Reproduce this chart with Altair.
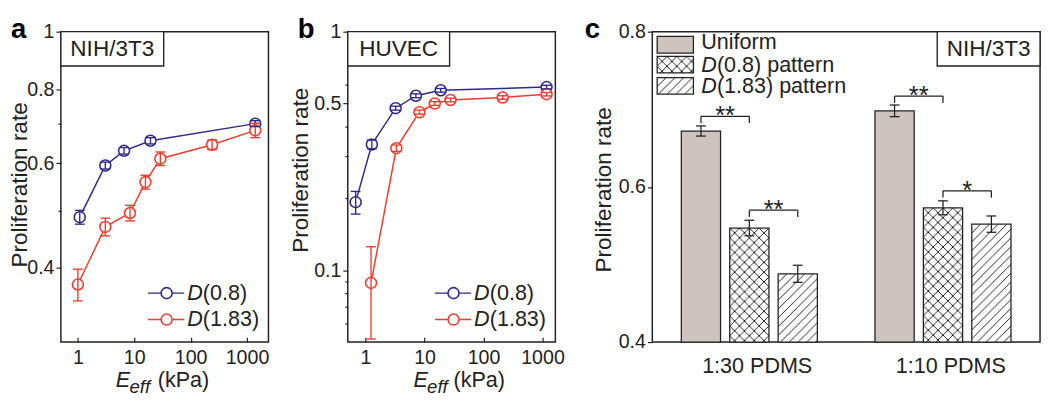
import base64
import altair as alt
import pandas as pd

# ---------------- data ----------------
# Panel a : NIH/3T3
a_E_d08 = [1.08, 3.07, 6.6, 19.4, 1400]
a_rate_d08 = [0.487, 0.595, 0.630, 0.655, 0.700]
a_err_d08 = [0.013, 0.008, 0.008, 0.008, 0.008]
a_E_d183 = [1.0, 3.07, 8.4, 15.8, 29.0, 240, 1400]
a_rate_d183 = [0.375, 0.469, 0.495, 0.558, 0.611, 0.645, 0.682]
a_err_d183 = [0.023, 0.016, 0.015, 0.015, 0.016, 0.012, 0.019]

# Panel b : HUVEC
b_E_d08 = [0.68, 1.28, 3.24, 7.14, 18.8, 1170]
b_rate_d08 = [0.193, 0.337, 0.478, 0.539, 0.568, 0.586]
b_err_d08 = [0.021, 0.014, 0.009, 0.010, 0.010, 0.010]
b_E_d183 = [1.24, 3.33, 8.2, 14.9, 27.6, 211, 1170]
b_rate_d183 = [0.0885, 0.325, 0.46, 0.50, 0.517, 0.53, 0.547]
b_err_d183 = [0.037, 0.010, 0.009, 0.009, 0.009, 0.009, 0.009]

series_names = ["D(0.8)", "D(1.83)"]

# Panel c : bars
c_groups = ["1:30 PDMS", "1:10 PDMS"]
c_types = ["Uniform", "D(0.8) pattern", "D(1.83) pattern"]
c_vals = {"1:30 PDMS": [0.672, 0.547, 0.488], "1:10 PDMS": [0.698, 0.573, 0.552]}
c_errs = {"1:30 PDMS": [0.0065, 0.010, 0.011], "1:10 PDMS": [0.0075, 0.009, 0.0105]}

sig_group = ["1:30 PDMS", "1:30 PDMS", "1:10 PDMS", "1:10 PDMS"]
sig_left = ["Uniform", "D(0.8) pattern", "Uniform", "D(0.8) pattern"]
sig_right = ["D(0.8) pattern", "D(1.83) pattern", "D(0.8) pattern", "D(1.83) pattern"]
sig_level = [0.691, 0.570, 0.717, 0.595]
sig_text = ["**", "**", "**", "*"]

# ---------------- styles ----------------
BLUE = "#2f2a88"
RED = "#f03c2e"
GRAY = "#cdc4bf"
INK = "#222222"
FONT = "Liberation Sans"
H = 317


def svg_url(kind, w, h):
    if kind == "cross":
        pat = ("<pattern id='p' width='10' height='10' patternUnits='userSpaceOnUse'>"
               "<path d='M0,0L10,10M10,0L0,10' stroke='#222' stroke-width='1'/></pattern>")
    else:
        pat = ("<pattern id='p' width='9' height='9' patternUnits='userSpaceOnUse'>"
               "<path d='M-2,2L2,-2M0,9L9,0M7,11L11,7' stroke='#222' stroke-width='1'/></pattern>")
    svg = (f"<svg xmlns='http://www.w3.org/2000/svg' width='{w}' height='{h}' viewBox='0 0 {w} {h}'>"
           f"<defs>{pat}</defs><rect width='{w}' height='{h}' fill='white'/>"
           f"<rect width='{w}' height='{h}' fill='url(#p)'/></svg>")
    return "data:image/svg+xml;base64," + base64.b64encode(svg.encode()).decode()


one = pd.DataFrame({"k": [0]})


def txt(text, x, y, size=22, style="normal", weight="normal", align="left", baseline="middle", color=INK):
    return alt.Chart(one).mark_text(
        text=text, fontSize=size, fontStyle=style, fontWeight=weight,
        align=align, baseline=baseline, color=color
    ).encode(x=alt.value(x), y=alt.value(y))


def scatter_panel(data, xdom, ydom, ymajor, yminor, label, box_w, letter,
                  title_x, title_y, ex):
    rows = []
    for s, (xs, ys, es) in zip(series_names, data):
        for xv, yv, ev in zip(xs, ys, es):
            rows.append({"series": s, "E": xv, "rate": yv, "lo": yv - ev, "hi": yv + ev})
    df = pd.DataFrame(rows)
    xsc = alt.Scale(type="log", domain=xdom)
    ysc = alt.Scale(type="log", domain=ydom)
    col = alt.Color("series:N", scale=alt.Scale(domain=series_names, range=[BLUE, RED]), legend=None)
    base = alt.Chart(df)

    line = base.mark_line(strokeWidth=1.5).encode(
        x=alt.X("E:Q", scale=xsc, axis=alt.Axis(
            orient="bottom", values=[1, 10, 100, 1000], format="d", tickSize=0,
            labelPadding=6, domain=False, grid=False, title=None, labelFontSize=20,
            labelColor=INK)),
        y=alt.Y("rate:Q", scale=ysc, axis=alt.Axis(
            orient="left", values=ymajor, format="~g", tickSize=5, tickWidth=1.2,
            tickColor=INK, labelPadding=2, labelFontSize=20, labelColor=INK,
            domain=False, grid=False, title="Proliferation rate", titleX=title_x,
            titleY=title_y, titleAngle=-90, titleAlign="center", titleBaseline="top",
            titleFontSize=23, titleFontWeight="normal", titleColor=INK)),
        color=col, detail="series:N")

    pts = base.mark_point(shape="circle", filled=True, fill="white", size=125,
                          strokeWidth=1.6, opacity=1).encode(
        x=alt.X("E:Q", scale=xsc, axis=alt.Axis(
            orient="top", offset=-H, values=[1, 10, 100, 1000], labels=False,
            domain=False, grid=False, tickSize=5, tickWidth=1.2, tickColor=INK, title=None)),
        y=alt.Y("rate:Q", scale=ysc, axis=alt.Axis(
            orient="left", values=yminor, labels=False, domain=False, grid=False,
            tickSize=3, tickWidth=1.2, tickColor=INK, title=None)),
        stroke=alt.Stroke("series:N", scale=alt.Scale(domain=series_names, range=[BLUE, RED]), legend=None))

    err = base.mark_rule(strokeWidth=1.4).encode(
        x=alt.X("E:Q", scale=xsc, axis=None),
        y=alt.Y("lo:Q", scale=ysc, axis=None), y2="hi:Q", color=col)
    cap_lo = base.mark_tick(orient="horizontal", size=10, thickness=1.4, opacity=1).encode(
        x=alt.X("E:Q", scale=xsc, axis=None), y=alt.Y("lo:Q", scale=ysc, axis=None), color=col)
    cap_hi = base.mark_tick(orient="horizontal", size=10, thickness=1.4, opacity=1).encode(
        x=alt.X("E:Q", scale=xsc, axis=None), y=alt.Y("hi:Q", scale=ysc, axis=None), color=col)

    box = alt.Chart(one).mark_rect(fill="white", stroke=INK, strokeWidth=1.4).encode(
        x=alt.value(0), x2=alt.value(box_w), y=alt.value(0), y2=alt.value(35))
    box_t = txt(label, box_w / 2, 18, size=23, align="center")

    leg = []
    for s, c, yy in zip(series_names, [BLUE, RED], [267, 294]):
        leg.append(alt.Chart(one).mark_rule(color=c, strokeWidth=1.5).encode(
            x=alt.value(89), x2=alt.value(126), y=alt.value(yy)))
        leg.append(alt.Chart(one).mark_point(shape="circle", filled=True, fill="white", stroke=c,
                                             size=125, strokeWidth=1.6, opacity=1).encode(
            x=alt.value(108), y=alt.value(yy)))
        leg.append(txt("D", 129, yy, style="italic"))
        leg.append(txt(s[1:], 145, yy))

    letter_t = txt(letter, -51, 6, size=28, weight="bold", baseline="alphabetic", color="black")
    xt = [txt("E", ex[0], 363, style="italic", baseline="alphabetic"),
          txt("eff", ex[1], 369, size=19, style="italic", baseline="alphabetic"),
          txt("(kPa)", ex[2], 363, baseline="alphabetic")]

    return alt.layer(line, pts, err, cap_lo, cap_hi, box, box_t, *leg, letter_t, *xt).resolve_axis(
        x="independent", y="independent").properties(width=212, height=H)


panel_a = scatter_panel(
    [(a_E_d08, a_rate_d08, a_err_d08), (a_E_d183, a_rate_d183, a_err_d183)],
    [0.5, 2400], [0.3, 1], [0.4, 0.6, 0.8, 1], [0.5, 0.7], "NIH/3T3", 105, "a",
    -53, 156, (56, 70, 99))
panel_b = scatter_panel(
    [(b_E_d08, b_rate_d08, b_err_d08), (b_E_d183, b_rate_d183, b_err_d183)],
    [0.5, 1650], [0.05, 1], [0.1, 0.5, 1], [0.06, 0.07, 0.08, 0.09, 0.2, 0.3, 0.4, 0.6],
    "HUVEC", 104, "b", -59, 141, (67, 81, 108))

# ---------------- panel c ----------------
keys = [f"{c_groups[0]}|{t}" for t in c_types] + ["gap"] + [f"{c_groups[1]}|{t}" for t in c_types]
urls = {"Uniform": "", "D(0.8) pattern": svg_url("cross", 40, 330),
        "D(1.83) pattern": svg_url("diag", 40, 330)}
rows = []
for g in c_groups:
    for t, v, e in zip(c_types, c_vals[g], c_errs[g]):
        rows.append({"key": f"{g}|{t}", "type": t, "value": v, "lo": v - e, "hi": v + e, "url": urls[t]})
cdf = pd.DataFrame(rows)
sdf = pd.DataFrame({
    "lkey": [f"{g}|{t}" for g, t in zip(sig_group, sig_left)],
    "rkey": [f"{g}|{t}" for g, t in zip(sig_group, sig_right)],
    "level": sig_level, "txt": sig_text})

xsc_c = alt.Scale(domain=keys, paddingInner=0.19, paddingOuter=0.6)
ysc_c = alt.Scale(domain=[0.4, 0.8], zero=False, nice=False)


def XC(field="key", axis=None):
    return alt.X(f"{field}:N", scale=xsc_c, axis=axis, bandPosition=0.5)


def YC(field="value"):
    return alt.Y(f"{field}:Q", scale=ysc_c, axis=None)


cbase = alt.Chart(cdf)
imgs = cbase.transform_filter("datum.type != 'Uniform'").mark_image(
    width=40, height=330, align="center", baseline="top", aspect=False, clip=True).encode(
    x=XC(), y=YC(), url="url:N")
bars = cbase.mark_bar(stroke=INK, strokeWidth=1.3).encode(
    x=alt.X("key:N", scale=xsc_c, axis=alt.Axis(
        labelExpr="indexof(datum.value, 'D(0.8)') > 0 ? split(datum.value, '|')[0] : ''",
        labelAngle=0, ticks=False, domain=False, labelFontSize=22, labelPadding=14,
        labelOffset=8, labelColor=INK, title=None, orient="bottom")),
    y=alt.Y("value:Q", scale=ysc_c, axis=alt.Axis(
        orient="left", values=[0.4, 0.6, 0.8], format=".1f", tickSize=5, tickWidth=1.2,
        tickColor=INK, labelPadding=2, labelFontSize=20, labelColor=INK, domain=False,
        grid=False, title="Proliferation rate", titleX=-61, titleY=161, titleAngle=-90,
        titleAlign="center", titleBaseline="top", titleFontSize=23,
        titleFontWeight="normal", titleColor=INK)),
    y2=alt.datum(0.4),
    fill=alt.Fill("type:N", scale=alt.Scale(domain=c_types, range=[GRAY, "transparent", "transparent"]),
                  legend=None))
cerr = cbase.mark_rule(color=INK, strokeWidth=1.3).encode(x=XC(), y=YC("lo"), y2="hi:Q")
ccap_lo = cbase.mark_tick(orient="horizontal", size=10, thickness=1.3, color=INK, opacity=1).encode(
    x=XC(), y=YC("lo"))
ccap_hi = cbase.mark_tick(orient="horizontal", size=10, thickness=1.3, color=INK, opacity=1).encode(
    x=XC(), y=YC("hi"))

sbase = alt.Chart(sdf)
br_h = sbase.mark_rule(color=INK, strokeWidth=1.3).encode(
    x=XC("lkey"), x2=alt.X2(field="rkey", bandPosition=0.5), y=YC("level"))
br_v = sbase.transform_fold(["lkey", "rkey"], as_=["side", "k"]).mark_rule(
    color=INK, strokeWidth=1.3, y2Offset=7).encode(
    x=XC("k"), y=YC("level"), y2="level:Q")
stars = sbase.mark_text(fontSize=26, dx=24.7, dy=8, align="center", baseline="alphabetic",
                        color=INK).encode(x=XC("lkey"), y=YC("level"), text="txt:N")

cbox = alt.Chart(one).mark_rect(fill="white", stroke=INK, strokeWidth=1.4).encode(
    x=alt.value(291), x2=alt.value(396), y=alt.value(0), y2=alt.value(35))
cbox_t = txt("NIH/3T3", 343.5, 18, size=23, align="center")

sw_y = [(4.7, 22), (25.3, 42), (47, 63.7)]
leg_c = [alt.Chart(one).mark_rect(fill=GRAY, stroke=INK, strokeWidth=1.3).encode(
    x=alt.value(5), x2=alt.value(42), y=alt.value(sw_y[0][0]), y2=alt.value(sw_y[0][1]))]
for kind, (y0, y1) in zip(["cross", "diag"], sw_y[1:]):
    leg_c.append(alt.Chart(one).mark_image(width=37, height=17, align="left", baseline="top",
                                           aspect=False).encode(
        x=alt.value(5), y=alt.value(y0), url=alt.value(svg_url(kind, 37, 17))))
    leg_c.append(alt.Chart(one).mark_rect(fill="transparent", stroke=INK, strokeWidth=1.3).encode(
        x=alt.value(5), x2=alt.value(42), y=alt.value(y0), y2=alt.value(y1)))
leg_c.append(txt("Uniform", 50, 11))
leg_c.append(txt("D", 50, 34, style="italic"))
leg_c.append(txt("(0.8) pattern", 66, 34))
leg_c.append(txt("D", 50, 56, style="italic"))
leg_c.append(txt("(1.83) pattern", 66, 56))
letter_c = txt("c", -69, 6, size=28, weight="bold", baseline="alphabetic", color="black")

panel_c = alt.layer(imgs, bars, cerr, ccap_lo, ccap_hi, br_h, br_v, stars, cbox, cbox_t,
                    *leg_c, letter_c).resolve_axis(
    x="independent", y="independent").properties(width=396, height=H)

chart = alt.hconcat(panel_a, panel_b, panel_c, spacing=19).properties(
    padding={"left": 0, "top": 3, "right": 0, "bottom": 0}
).configure(font=FONT).configure_view(stroke=INK, strokeWidth=1.5)

chart.save("out.html", embed_options={"renderer": "svg", "actions": False})
